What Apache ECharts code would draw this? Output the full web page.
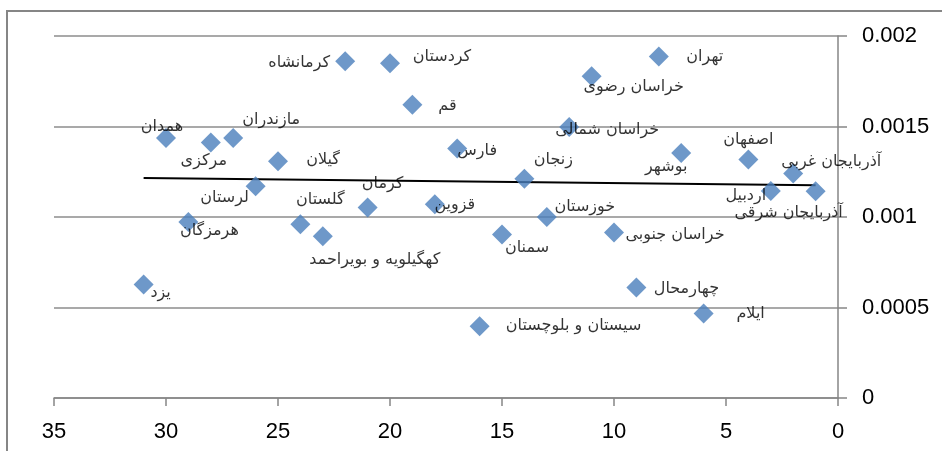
<!DOCTYPE html>
<html>
<head>
<meta charset="utf-8">
<script src="https://cdn.jsdelivr.net/npm/echarts@6/dist/echarts.min.js"></script>
<style>
html,body{margin:0;padding:0;background:#fff;}
#c{width:942px;height:451px;}
</style>
</head>
<body>
<div id="c"></div>
<script>
// ---- data ----
const provinces = ['تهران','خراسان رضوی','کردستان','کرمانشاه','قم','خراسان شمالی','فارس','زنجان','همدان','مرکزی','مازندران','گیلان','لرستان','هرمزگان','گلستان','کهگیلویه و بویراحمد','کرمان','قزوین','خوزستان','سمنان','خراسان جنوبی','چهارمحال','ایلام','سیستان و بلوچستان','یزد','بوشهر','اصفهان','آذربایجان غربی','اردبیل','آذربایجان شرقی'];
const rank = [8,11,20,22,19,12,17,14,30,28,27,25,26,29,24,23,21,18,13,15,10,9,6,16,31,7,4,2,3,1];
const value = [0.001887,0.001777,0.00185,0.00186,0.00162,0.001497,0.001378,0.001212,0.001437,0.001411,0.001437,0.001308,0.00117,0.000973,0.00096,0.000894,0.001052,0.001071,0.001,0.000903,0.000914,0.000611,0.000467,0.000397,0.000627,0.001354,0.001317,0.00124,0.001144,0.001142];
const trendX = [31, 1];
const trendY = [0.001216, 0.001175];
const xTicks = [0, 35, 5];
const yTicks = [0, 0.002, 0.0005];

// label offsets (pixels, label centre relative to marker centre)
const labelOffsets = [[46,0],[42,10],[52,-6],[-46,2],[35,1],[38,3],[20,2],[29,-19],[-4,-11],[-7,18],[38,-18],[45,-1],[-31,12],[21,9],[20,-24],[52,24],[15,-24],[20,1],[38,-10],[25,13],[61,2],[50,1],[47,0],[94,0],[17,8],[-15,14],[0,-20],[38,-12],[-25,5],[-27,22]];

const pts = provinces.map((n,i)=>({
  name:n,
  value:[rank[i], value[i]],
  label:{offset:labelOffsets[i]}
}));

const chart = echarts.init(document.getElementById('c'));
const axisFont = {fontFamily:'Liberation Sans, Arial, sans-serif', fontSize:22, color:'#000'};
chart.setOption({
  animation:false,
  backgroundColor:'#fff',
  graphic:[{type:'rect', shape:{x:7,y:11,width:1000,height:520}, style:{fill:'none', stroke:'#868686', lineWidth:2}, silent:true}],
  grid:{left:54, right:104, top:36, bottom:53},
  xAxis:{
    type:'value', inverse:true, min:xTicks[0], max:xTicks[1], interval:xTicks[2],
    axisLine:{onZero:false, lineStyle:{color:'#868686', width:1.5}},
    axisTick:{show:true, length:8, lineStyle:{color:'#868686', width:1.5}},
    axisLabel:Object.assign({margin:23}, axisFont),
    splitLine:{show:false}
  },
  yAxis:{
    type:'value', position:'right', min:yTicks[0], max:yTicks[1], interval:yTicks[2],
    axisLine:{show:true, lineStyle:{color:'#868686', width:1.5}},
    axisTick:{show:true, length:9, lineStyle:{color:'#868686', width:1.5}},
    axisLabel:Object.assign({margin:24, formatter:v=>String(v)}, axisFont),
    splitLine:{show:true, lineStyle:{color:'#8c8c8c', width:1.5}}
  },
  series:[
    {
      type:'line', data:trendX.map((x,i)=>[x,trendY[i]]), symbol:'none',
      lineStyle:{color:'#000', width:2}, z:1, silent:true
    },
    {
      type:'scatter', data:pts, symbol:'diamond', symbolSize:20,
      itemStyle:{color:'#4a7ebb'}, z:2,
      label:{show:true, position:'inside', align:'center', verticalAlign:'middle',
        formatter:p=>p.name, color:'#000', fontSize:16,
        fontFamily:'DejaVu Sans, sans-serif'}
    }
  ]
});
</script>
</body>
</html>
